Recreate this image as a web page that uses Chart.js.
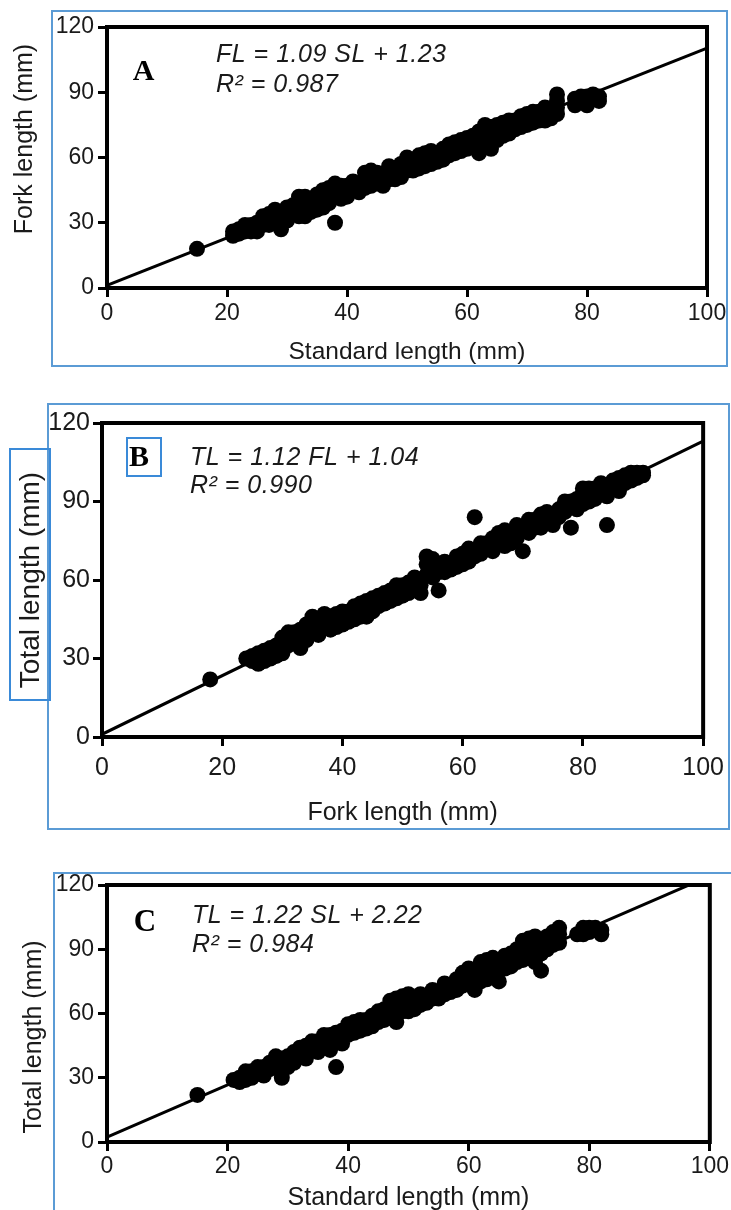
<!DOCTYPE html>
<html>
<head>
<meta charset="utf-8">
<script src="https://cdn.jsdelivr.net/npm/chart.js@4.4.1/dist/chart.umd.min.js"></script>
<style>
html,body{margin:0;padding:0;background:#fff;width:731px;height:1210px;overflow:hidden;position:relative;}
canvas{position:absolute;left:0;}
.box{position:absolute;box-sizing:border-box;pointer-events:none;}
.panelBox{border:2px solid #5b9bd5;}
.innerBox{border:2px solid #3a8ad8;}
</style>
</head>
<body>
<canvas id="cA" width="731" height="372" style="top:0px"></canvas>
<canvas id="cB" width="731" height="460" style="top:380px"></canvas>
<canvas id="cC" width="731" height="366" style="top:850px"></canvas>

<div class="box panelBox" style="left:51px;top:10px;width:677px;height:357px"></div>
<div class="box panelBox" style="left:47px;top:403px;width:683px;height:427px"></div>
<div class="box innerBox" style="left:9px;top:448px;width:42px;height:253px"></div>
<div class="box innerBox" style="left:126px;top:437px;width:36px;height:40px"></div>
<div class="box panelBox" style="left:53px;top:872px;width:700px;height:400px"></div>

<script>
// ---------------- DATA ----------------
const xTickValues = [0, 20, 40, 60, 80, 100];
const yTickValues = [0, 30, 60, 90, 120];

// Panel A: Standard length (x) vs Fork length (y)
const panelA_SL = [15, 21,21, 22,22, 23,23, 24,24,24, 25,25, 26,26,26, 27,27,27, 28,28,28, 29,29,29, 30,30,30, 31,31, 32,32,32, 33,33,33, 34,34, 35,35, 36,36,36, 37,37, 38,38,38, 39,39, 40,40, 41, 42, 43,43, 44,44, 45, 46,46, 47,47, 48,48, 49, 50,50, 51,51, 52, 53, 54, 55,55, 56, 57, 58, 59,59, 60,60, 61,61, 62,62,62, 63,63,63, 64,64, 65,65, 66,66, 67, 68,68, 69, 70,70, 71, 72,72, 73, 74,74, 75,75,75, 78, 79,79, 80, 81, 82,
  23,25,27,28,30, 31,32,33,34,35, 36,37,39,40,41, 42,43,44,45,46, 47,48,49,49,50, 51,52,52,53,53, 54,54,55,56,56, 57,57,58,58,59, 60,61,62,63,64, 64,65,65,66,67, 67,68,69,69,70, 71,71,72,73,73, 74,75,80,81,82, 78];
const panelA_FL = [18, 24,26, 25,27, 26,28, 27,29,26, 28,30, 29,31,33, 30,32,34, 31,33,35, 27,32,34, 33,35,37, 34,36, 35,38,42, 36,40,33, 37,41, 39,43, 40,45,37, 41,46, 30,43,48, 44,41, 45,47, 46, 47, 49,53, 51,47, 50, 52,49, 53,56, 52,50, 54, 56,60, 57,54, 58, 59, 60, 62,58, 62, 63, 64, 65,68, 66,64, 67,70, 62,72,68, 69,75,65, 71,64, 72,68, 73,76, 74, 77,73, 76, 78,75, 79, 81,77, 79, 82,80, 89,86,83, 84, 86,88, 88, 87, 88,
  29,26,29,36,31, 38,33,42,35,36, 43,39,47,42,49, 44,46,54,53,47, 50,55,51,57,54, 59,55,61,56,62, 57,63,59,64,59, 61,66,62,67,63, 69,65,65,72,74, 68,75,70,70,77, 71,75,79,74,80, 76,81,79,83,77, 78,80,84,89,86, 87];

// Panel B: Fork length (x) vs Total length (y)
const panelB_FL = [18, 24, 25,25, 26,26, 27,27,27, 28,28, 29,29, 30,30,30, 31,31,31, 32,32, 33,33,33, 34,34, 35,35,35, 36,36, 37,37, 38,38, 39,39, 40,40, 41,41, 42,42, 43,43, 44,44, 45,45, 46,46, 47,47, 48,48, 49, 50,50, 51,51, 52, 53,53, 54,54,54, 55,55, 56,56, 57, 58, 59, 60, 61, 62,62, 63, 64,64, 65, 66,66, 67, 68,68, 69, 70,70, 71, 72,72, 73, 74, 75,75, 76,76, 77, 78,78, 79,79, 80, 81, 82,82, 83, 84,84,84, 85, 86, 87, 88, 89, 90,
  26,28,29,30,32, 33,34,36,37,38, 39,40,41,42,43, 44,45,46,47,48, 49,49,50,51,52, 53,55,57,57,58, 59,59,60,60,61, 61,63,63,65,65, 67,67,69,69,71, 71,73,73,74,74, 75,77,77,79,80, 80,81,81,83,83, 85,86,87,88,89, 90,86];
const panelB_TL = [22, 30, 29,31, 30,32, 29,31,33, 32,34, 31,35, 34,36,38, 35,37,40, 36,38, 38,41,36, 39,43, 40,46,44, 41,44, 42,45, 43,46, 44,42, 45,48, 46,48, 47,50, 48,51, 50,46, 51,53, 52,54, 53,55, 54,56, 55, 56,58, 57,59, 58, 60,55, 62,66,69, 64,61, 63,56, 65, 66, 67, 68, 70, 84,69, 72, 72,74, 74, 75,78, 76, 78,74, 79, 71,80, 81, 80,83, 83, 84, 85,81, 84,87, 88, 90,80, 91,88, 93, 92, 95,91, 97, 96,81,92, 98, 97, 100, 101, 99, 100,
  28,30,33,32,40, 34,37,39,47,41, 47,43,44,45,46, 52,48,50,51,52, 53,58,54,55,61, 58,68,63,67,64, 65,69,66,70,67, 72,70,74,71,76, 73,79,76,81,78, 83,80,85,82,86, 84,86,90,87,89, 95,90,95,93,94, 95,99,97,98,101, 101,94];

// Panel C: Standard length (x) vs Total length (y)
const panelC_SL = [15, 21, 22,22, 23,23, 24,24, 25,25, 26,26, 27,27, 28,28, 29,29,29, 30,30, 31,31, 32,32, 33,33, 34,34, 35,35, 36,36, 37,37, 38,38,38, 39,39, 40,40, 41, 42, 43,43, 44, 45, 46, 47,47, 48,48, 49,49, 50,50, 51, 52, 53, 54, 55, 56, 57, 58, 59,59, 60,60, 61,61, 62,62, 63,63, 64,64, 65,65, 66, 67, 68, 69,69, 70,70, 71,71, 72,72, 73, 74, 75,75, 78, 79, 80, 81, 82,
  23,24,25,26,27, 28,30,31,32,33, 34,35,36,37,39, 40,41,41,42,42, 43,44,44,45,45, 46,46,47,48,48, 49,50,51,52,52, 53,54,54,55,56, 56,57,58,58,59, 60,61,62,63,63, 64,65,66,66,67, 67,68,68,69,70, 71,71,72,73,73, 74,74,75,79,80, 81,82];
const panelC_TL = [22, 29, 30,28, 31,29, 33,30, 34,32, 35,33, 37,34, 38,36, 30,39,36, 40,37, 42,39, 44,40, 45,42, 46,43, 47,44, 48,45, 50,46, 35,51,48, 52,49, 53,50, 54, 55, 57,53, 58, 59, 60, 62,66, 60,56, 64,68, 66,61, 65, 66, 68, 69, 70, 71, 72, 73, 76,79, 78,81, 71,80, 84,78, 82,76, 86,80, 75,83, 85, 86, 88, 89,94, 91,95, 92,84, 80,93, 94, 95, 100,97, 97, 100, 100, 99, 97,
  33,31,35,31,35, 40,35,37,43,39, 47,42,50,43,46, 55,51,56,52,57, 55,54,59,56,61, 57,62,59,63,67, 61,69,62,64,69, 65,67,71,67,69, 74,70,71,76,73, 74,76,75,78,85, 78,80,81,87,82, 88,84,90,85,86, 88,96,88,90,96, 92,98,93,97,98, 100,99];

// Regression fits (slope, intercept) for A, B, C
const fitSlopes = [1.09, 1.12, 1.22];
const fitIntercepts = [1.23, 1.04, 2.22];

const panelLetters = ['A', 'B', 'C'];
const equationLine1 = ['FL = 1.09 SL + 1.23', 'TL = 1.12 FL + 1.04', 'TL = 1.22 SL + 2.22'];
const equationLine2 = ['R\u00B2 = 0.987', 'R\u00B2 = 0.990', 'R\u00B2 = 0.984'];
const xTitles = ['Standard length (mm)', 'Fork length (mm)', 'Standard length (mm)'];
const yTitles = ['Fork length (mm)', 'Total length (mm)', 'Total length (mm)'];

// ---------------- DRAWING ----------------
const FONT = '"Liberation Sans", Arial, Helvetica, sans-serif';
const SERIF = '"Liberation Serif", "Times New Roman", Times, serif';
const TEXT = '#1a1a1a';

const decoPlugin = {
  id: 'panelDeco',
  afterDraw(chart, args, o) {
    const ctx = chart.ctx;
    const a = chart.chartArea;
    const off = o.canvasTop;
    ctx.save();
    // frame
    ctx.strokeStyle = '#000';
    ctx.lineWidth = 4;
    ctx.strokeRect(a.left, a.top, a.right - a.left, a.bottom - a.top);
    // panel letter
    ctx.fillStyle = '#000';
    ctx.font = 'bold ' + o.letterSize + 'px ' + SERIF;
    ctx.textAlign = 'center';
    ctx.textBaseline = 'alphabetic';
    ctx.fillText(o.letter, o.letterX, o.letterY - off);
    // equation
    ctx.fillStyle = TEXT;
    ctx.font = 'italic 25px ' + FONT;
    ctx.textAlign = 'left';
    if ('letterSpacing' in ctx) ctx.letterSpacing = '0.5px';
    ctx.fillText(o.eq1, o.eqX, o.eqY1 - off);
    ctx.fillText(o.eq2, o.eqX, o.eqY2 - off);
    if ('letterSpacing' in ctx) ctx.letterSpacing = '0px';
    // y-axis title
    ctx.font = o.yTitleSize + 'px ' + FONT;
    ctx.translate(o.yTitleX, o.yTitleY - off);
    ctx.rotate(-Math.PI / 2);
    ctx.textAlign = 'center';
    ctx.textBaseline = 'middle';
    ctx.fillText(o.yTitle, 0, 0);
    ctx.restore();
  }
};

function makePanel(cfg) {
  const canvas = document.getElementById(cfg.canvasId);
  const H = canvas.height;
  const areaTop = cfg.area.top - cfg.canvasTop;
  const areaBottom = cfg.area.bottom - cfg.canvasTop;
  const n = Math.min(cfg.xs.length, cfg.ys.length);
  const pts = [];
  for (let i = 0; i < n; i++) pts.push({x: cfg.xs[i], y: cfg.ys[i]});
  const fit = [xTickValues[0], xTickValues[xTickValues.length - 1]].map(x => ({x: x, y: cfg.slope * x + cfg.intercept}));
  new Chart(canvas, {
    type: 'scatter',
    data: {
      datasets: [
        {type: 'line', data: fit, borderColor: '#000', borderWidth: 3, pointRadius: 0, fill: false, order: 2},
        {type: 'scatter', data: pts, backgroundColor: '#000', borderColor: '#000', borderWidth: 0, pointRadius: 8, pointHoverRadius: 8, order: 1}
      ]
    },
    options: {
      responsive: false,
      animation: false,
      events: [],
      layout: {padding: {left: 0, top: areaTop, right: 731 - cfg.area.right, bottom: 0}},
      plugins: {
        legend: {display: false},
        tooltip: {enabled: false},
        panelDeco: cfg.deco
      },
      scales: {
        x: {
          type: 'linear', position: 'bottom', min: 0, max: 100,
          afterBuildTicks: s => { s.ticks = xTickValues.map(v => ({value: v})); },
          afterFit: s => { s.height = H - areaBottom; },
          grid: {drawOnChartArea: false, drawTicks: true, tickLength: 9, lineWidth: 3, color: '#000'},
          border: {display: false},
          ticks: {font: {family: FONT, size: cfg.tickSize}, color: TEXT, padding: cfg.xTickPad, maxRotation: 0, autoSkip: false},
          title: {display: true, text: cfg.xTitle, font: {family: FONT, size: cfg.xTitleSize}, color: TEXT, padding: {top: 0, bottom: cfg.xTitlePadB}}
        },
        y: {
          type: 'linear', position: 'left', min: 0, max: 120,
          afterBuildTicks: s => { s.ticks = yTickValues.map(v => ({value: v})); },
          afterFit: s => { s.width = cfg.area.left; },
          grid: {drawOnChartArea: false, drawTicks: true, tickLength: 9, lineWidth: 3, color: '#000'},
          border: {display: false},
          ticks: {font: {family: FONT, size: cfg.tickSize}, color: TEXT, padding: cfg.yTickPad, autoSkip: false},
          title: {display: false}
        }
      }
    },
    plugins: [decoPlugin]
  });
}

makePanel({
  canvasId: 'cA', canvasTop: 0,
  area: {left: 107, right: 707, top: 27, bottom: 288},
  xs: panelA_SL, ys: panelA_FL, slope: fitSlopes[0], intercept: fitIntercepts[0],
  tickSize: 23, xTickPad: 3, yTickPad: 4,
  xTitle: xTitles[0], xTitleSize: 24.5, xTitlePadB: 5,
  deco: {canvasTop: 0, letter: panelLetters[0], letterSize: 30, letterX: 143.5, letterY: 80,
         eq1: equationLine1[0], eq2: equationLine2[0], eqX: 216, eqY1: 62, eqY2: 92,
         yTitle: yTitles[0], yTitleSize: 25, yTitleX: 25, yTitleY: 139}
});

makePanel({
  canvasId: 'cB', canvasTop: 380,
  area: {left: 102, right: 707, top: 423, bottom: 737},
  xs: panelB_FL, ys: panelB_TL, slope: fitSlopes[1], intercept: fitIntercepts[1],
  tickSize: 25, xTickPad: 7, yTickPad: 3,
  xTitle: xTitles[1], xTitleSize: 25, xTitlePadB: 12,
  deco: {canvasTop: 380, letter: panelLetters[1], letterSize: 30, letterX: 139, letterY: 466,
         eq1: equationLine1[1], eq2: equationLine2[1], eqX: 190, eqY1: 465, eqY2: 493,
         yTitle: yTitles[1], yTitleSize: 28, yTitleX: 31, yTitleY: 580}
});

makePanel({
  canvasId: 'cC', canvasTop: 850,
  area: {left: 107, right: 713, top: 885, bottom: 1142},
  xs: panelC_SL, ys: panelC_TL, slope: fitSlopes[2], intercept: fitIntercepts[2],
  tickSize: 23, xTickPad: 2, yTickPad: 4,
  xTitle: xTitles[2], xTitleSize: 25, xTitlePadB: 3,
  deco: {canvasTop: 850, letter: panelLetters[2], letterSize: 31, letterX: 145, letterY: 931,
         eq1: equationLine1[2], eq2: equationLine2[2], eqX: 192, eqY1: 923, eqY2: 952,
         yTitle: yTitles[2], yTitleSize: 25, yTitleX: 34, yTitleY: 1037}
});
</script>
</body>
</html>
